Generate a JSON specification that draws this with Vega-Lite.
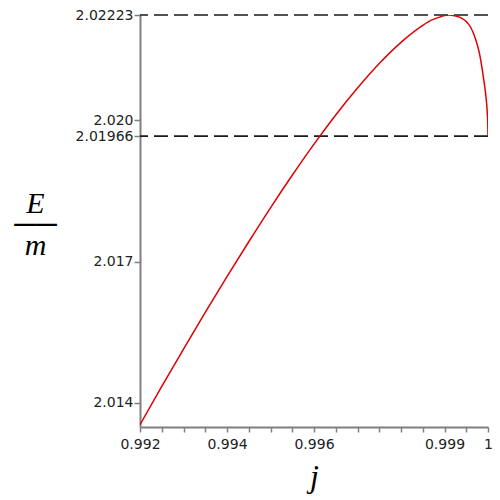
{
  "$schema": "https://vega.github.io/schema/vega-lite/v6.json",
  "width": 348,
  "height": 412,
  "autosize": "none",
  "padding": {"left": 140, "top": 15, "right": 12, "bottom": 73},
  "background": "white",
  "config": {"view": {"stroke": null}},
  "datasets": {
    "curve": [
      {"j": 0.9920, "E": 2.01354},
      {"j": 0.9925, "E": 2.01435},
      {"j": 0.9930, "E": 2.01514},
      {"j": 0.9935, "E": 2.01592},
      {"j": 0.9940, "E": 2.01668},
      {"j": 0.9945, "E": 2.01742},
      {"j": 0.9950, "E": 2.01814},
      {"j": 0.9955, "E": 2.01883},
      {"j": 0.9960, "E": 2.01949},
      {"j": 0.9965, "E": 2.02011},
      {"j": 0.9970, "E": 2.02068},
      {"j": 0.9975, "E": 2.02120},
      {"j": 0.9980, "E": 2.02165},
      {"j": 0.9985, "E": 2.02201},
      {"j": 0.9987, "E": 2.02212},
      {"j": 0.9989, "E": 2.02219},
      {"j": 0.9990, "E": 2.02222},
      {"j": 0.9991, "E": 2.02223},
      {"j": 0.9992, "E": 2.02222},
      {"j": 0.9993, "E": 2.02220},
      {"j": 0.9994, "E": 2.02216},
      {"j": 0.9995, "E": 2.02209},
      {"j": 0.9996, "E": 2.02197},
      {"j": 0.9997, "E": 2.02176},
      {"j": 0.9998, "E": 2.02143},
      {"j": 0.9999, "E": 2.02087},
      {"j": 0.99995, "E": 2.02052},
      {"j": 0.99998, "E": 2.02021},
      {"j": 0.999995, "E": 2.01993},
      {"j": 1.0, "E": 2.01966}
    ],
    "levels": [
      {"level": 2.02223},
      {"level": 2.01966}
    ]
  },
  "layer": [
    {
      "data": {"name": "levels"},
      "mark": {"type": "rule", "color": "#1a1a1a", "strokeWidth": 1.6, "strokeDash": [14, 6]},
      "encoding": {
        "y": {"field": "level", "type": "quantitative", "scale": {"domain": [2.01349, 2.02223], "nice": false, "zero": false}}
      }
    },
    {
      "data": {"name": "curve"},
      "mark": {"type": "line", "color": "#e00000", "strokeWidth": 1.5, "interpolate": "monotone", "clip": true},
      "encoding": {
        "x": {
          "field": "j", "type": "quantitative",
          "scale": {"domain": [0.992, 1.0], "nice": false, "zero": false},
          "axis": {
            "title": "j",
            "titleFont": "Liberation Serif", "titleFontStyle": "italic", "titleFontWeight": "normal",
            "titleFontSize": 32, "titleColor": "black", "titlePadding": 10,
            "values": [0.992, 0.9925, 0.993, 0.9935, 0.994, 0.9945, 0.995, 0.9955, 0.996, 0.9965, 0.997, 0.9975, 0.998, 0.9985, 0.999, 0.9995, 1.0],
            "labelExpr": "indexof([9920,9940,9960,9990,10000], round(datum.value*10000)) >= 0 ? (datum.value > 0.99999 ? '1' : format(datum.value, '.3f')) : ''",
            "labelOverlap": false, "labelFlush": false,
            "labelFont": "DejaVu Sans", "labelFontSize": 14, "labelColor": "#222222", "labelPadding": 5,
            "grid": false, "domainColor": "#808080", "domainWidth": 2,
            "tickColor": "#808080", "tickWidth": 1.5, "tickSize": 5
          }
        },
        "y": {
          "field": "E", "type": "quantitative",
          "scale": {"domain": [2.01349, 2.02223], "nice": false, "zero": false},
          "axis": {
            "title": ["E", "──", "m"],
            "titleFont": "Liberation Serif", "titleFontStyle": "italic", "titleFontWeight": "normal",
            "titleFontSize": 30, "titleColor": "black", "titleAngle": 0,
            "titleAlign": "center", "titleBaseline": "alphabetic",
            "titleX": -105, "titleY": 197, "titleLineHeight": 21,
            "values": [2.014, 2.017, 2.02, 2.01966, 2.02223],
            "labelExpr": "datum.value < 2.0196 || abs(datum.value - 2.02) < 0.000001 ? format(datum.value, '.3f') : format(datum.value, '.5f')",
            "labelOverlap": false, "labelFlush": false,
            "labelFont": "DejaVu Sans", "labelFontSize": 14, "labelColor": "#222222", "labelPadding": 1,
            "grid": false, "domainColor": "#808080", "domainWidth": 2,
            "tickColor": "#808080", "tickWidth": 1.5, "tickSize": 6
          }
        }
      }
    }
  ]
}
